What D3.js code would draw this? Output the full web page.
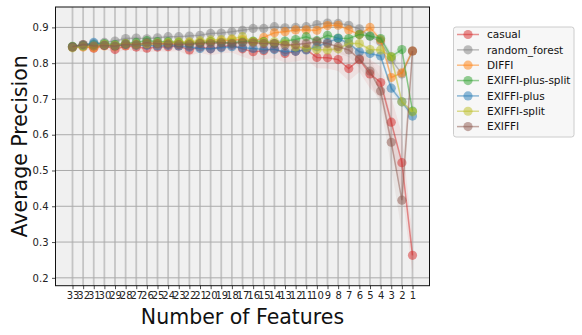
<!DOCTYPE html>
<html><head><meta charset="utf-8">
<script src="https://cdn.jsdelivr.net/npm/d3@7"></script>
<style>body{margin:0;background:#fff}svg{display:block}text{font-family:"DejaVu Sans",sans-serif}</style>
</head><body>
<svg id="c" width="582" height="335"></svg>
<script>
const categories = ["33","32","31","30","29","28","27","26","25","24","23","22","21","20","19","18","17","16","15","14","13","12","11","10","9","8","7","6","5","4","3","2","1"];
const seriesNames = ["casual","random_forest","DIFFI","EXIFFI-plus-split","EXIFFI-plus","EXIFFI-split","EXIFFI"];
const seriesColors = ["#d62728","#7f7f7f","#ff7f0e","#2ca02c","#1f77b4","#bcbd22","#8c564b"];
const casual = [0.845,0.848,0.842,0.850,0.838,0.848,0.845,0.842,0.845,0.846,0.848,0.837,0.845,0.840,0.845,0.850,0.840,0.832,0.835,0.840,0.827,0.833,0.838,0.816,0.815,0.810,0.785,0.810,0.770,0.746,0.635,0.522,0.263];
const randomForest = [0.845,0.852,0.855,0.858,0.862,0.869,0.870,0.868,0.871,0.874,0.874,0.876,0.878,0.883,0.884,0.888,0.892,0.897,0.897,0.902,0.899,0.900,0.902,0.908,0.912,0.911,0.906,0.896,0.875,0.860,0.810,0.770,0.834];
const diffi = [0.846,0.845,0.843,0.848,0.846,0.850,0.850,0.852,0.852,0.855,0.855,0.857,0.858,0.860,0.862,0.865,0.866,0.860,0.872,0.885,0.888,0.893,0.893,0.892,0.905,0.906,0.893,0.880,0.900,0.865,0.760,0.773,0.834];
const exiffiPlusSplit = [0.847,0.850,0.852,0.855,0.852,0.855,0.858,0.863,0.860,0.860,0.858,0.855,0.857,0.860,0.858,0.857,0.860,0.862,0.860,0.855,0.862,0.866,0.874,0.863,0.878,0.870,0.869,0.880,0.876,0.869,0.818,0.838,0.666];
const exiffiPlus = [0.845,0.848,0.858,0.850,0.848,0.852,0.850,0.850,0.848,0.850,0.848,0.845,0.841,0.840,0.843,0.846,0.843,0.841,0.838,0.838,0.832,0.833,0.837,0.846,0.858,0.869,0.855,0.832,0.827,0.820,0.730,0.692,0.652];
const exiffiSplit = [0.843,0.847,0.848,0.852,0.850,0.855,0.853,0.855,0.857,0.858,0.860,0.860,0.863,0.865,0.866,0.868,0.874,0.860,0.858,0.860,0.855,0.845,0.843,0.838,0.837,0.840,0.855,0.855,0.838,0.837,0.818,0.692,0.664];
const exiffi = [0.845,0.852,0.848,0.850,0.848,0.853,0.852,0.857,0.855,0.853,0.852,0.852,0.855,0.855,0.857,0.855,0.858,0.857,0.855,0.855,0.850,0.852,0.855,0.860,0.855,0.846,0.837,0.812,0.778,0.722,0.579,0.417,0.834];
// spread (half width of shaded band)
const casualSpread = [0.006,0.008,0.008,0.01,0.01,0.01,0.012,0.012,0.012,0.014,0.014,0.016,0.016,0.018,0.018,0.02,0.022,0.024,0.024,0.026,0.026,0.028,0.028,0.03,0.03,0.032,0.035,0.035,0.04,0.045,0.07,0.08,0.05];
const randomForestSpread = [0.004,0.004,0.004,0.005,0.005,0.005,0.005,0.006,0.006,0.006,0.006,0.006,0.006,0.007,0.007,0.007,0.007,0.008,0.008,0.008,0.008,0.008,0.008,0.009,0.01,0.01,0.01,0.01,0.012,0.015,0.02,0.02,0.01];
const diffiSpread = [0.004,0.004,0.004,0.004,0.004,0.004,0.004,0.005,0.005,0.005,0.005,0.005,0.005,0.005,0.005,0.005,0.005,0.006,0.006,0.006,0.006,0.006,0.006,0.006,0.006,0.006,0.006,0.006,0.006,0.008,0.01,0.01,0.005];
const exiffiPlusSplitSpread = diffiSpread;
const exiffiPlusSpread = diffiSpread;
const exiffiSplitSpread = diffiSpread;
const exiffiSpread = [0.005,0.005,0.005,0.006,0.006,0.006,0.006,0.007,0.007,0.007,0.008,0.008,0.008,0.009,0.009,0.01,0.01,0.01,0.012,0.012,0.012,0.014,0.014,0.015,0.016,0.018,0.02,0.025,0.03,0.04,0.07,0.09,0.005];
const yTicks = [0.2,0.3,0.4,0.5,0.6,0.7,0.8,0.9];

const seriesValues = [casual,randomForest,diffi,exiffiPlusSplit,exiffiPlus,exiffiSplit,exiffi];
const seriesSpread = [casualSpread,randomForestSpread,diffiSpread,exiffiPlusSplitSpread,exiffiPlusSpread,exiffiSplitSpread,exiffiSpread];

const svg = d3.select("#c");
const L=55.5, R=429.5, T=7, B=285.7;
const x = d3.scalePoint().domain(categories).range([L,R]).padding(1.6);
const y = d3.scaleLinear().domain([0.178,0.957]).range([B,T]);

svg.append("rect").attr("x",L).attr("y",T).attr("width",R-L).attr("height",B-T).attr("fill","#f0f0f0");

// grid
svg.append("g").selectAll("line").data(categories).join("line")
  .attr("x1",d=>x(d)).attr("x2",d=>x(d)).attr("y1",T).attr("y2",B)
  .attr("stroke","#c4c4c4").attr("stroke-width",1.8);
svg.append("g").selectAll("line").data(yTicks).join("line")
  .attr("x1",L).attr("x2",R).attr("y1",d=>y(d)).attr("y2",d=>y(d))
  .attr("stroke","#ababab").attr("stroke-width",1);

// series
const line = d3.line().x((d,i)=>x(categories[i])).y(d=>y(d));
seriesNames.forEach((name,k)=>{
  const vals = seriesValues[k], sp = seriesSpread[k], col = seriesColors[k];
  const area = d3.area().x((d,i)=>x(categories[i])).y0((d,i)=>y(d-sp[i])).y1((d,i)=>y(d+sp[i]));
  svg.append("path").datum(vals).attr("d",area).attr("fill",col).attr("fill-opacity",0.08);
  svg.append("path").datum(vals).attr("d",line).attr("fill","none").attr("stroke",col).attr("stroke-width",1.5).attr("stroke-opacity",0.5);
  svg.append("g").selectAll("circle").data(vals).join("circle")
    .attr("cx",(d,i)=>x(categories[i])).attr("cy",d=>y(d)).attr("r",4.6)
    .attr("fill",col).attr("fill-opacity",0.5);
});

// axes
const xa = svg.append("g").attr("transform",`translate(0,${B})`)
  .call(d3.axisBottom(x).tickSize(3.5).tickPadding(3));
const ya = svg.append("g").attr("transform",`translate(${L},0)`)
  .call(d3.axisLeft(y).tickValues(yTicks).tickFormat(d3.format(".1f")).tickSize(3.5).tickPadding(3.5));
[xa,ya].forEach(a=>{
  a.select(".domain").remove();
  a.selectAll("text").attr("font-size",10).attr("fill","#222").attr("font-family","DejaVu Sans");
  a.selectAll("line").attr("stroke","#222").attr("stroke-width",0.8);
});
svg.append("rect").attr("x",L).attr("y",T).attr("width",R-L).attr("height",B-T)
  .attr("fill","none").attr("stroke","#111").attr("stroke-width",1);

svg.append("text").attr("x",(L+R)/2).attr("y",324).attr("text-anchor","middle")
  .attr("font-size",20.5).attr("fill","#111").text("Number of Features");
svg.append("text").attr("transform",`translate(27,${(T+B)/2}) rotate(-90)`).attr("text-anchor","middle")
  .attr("font-size",20.5).attr("fill","#111").text("Average Precision");

// legend
const lg = svg.append("g");
lg.append("rect").attr("x",453.5).attr("y",27).attr("width",120.5).attr("height",110).attr("rx",2.5)
  .attr("fill","#f7f7f7").attr("stroke","#cccccc").attr("stroke-width",1);
seriesNames.forEach((name,k)=>{
  const cy = 34.5 + k*15.35;
  lg.append("line").attr("x1",457).attr("x2",479).attr("y1",cy).attr("y2",cy)
    .attr("stroke",seriesColors[k]).attr("stroke-width",1.5).attr("stroke-opacity",0.5);
  lg.append("circle").attr("cx",468).attr("cy",cy).attr("r",4.6).attr("fill",seriesColors[k]).attr("fill-opacity",0.5);
  lg.append("text").attr("x",487).attr("y",cy+3.8).attr("font-size",10.5).attr("fill","#111").text(name);
});
</script>
</body></html>
